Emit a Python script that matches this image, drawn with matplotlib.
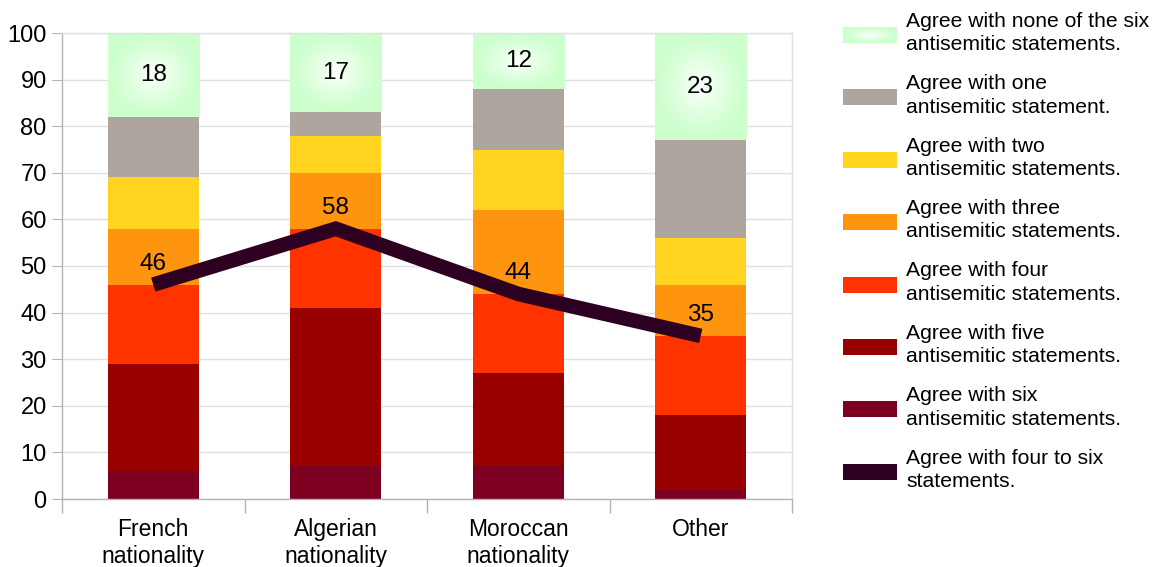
import numpy as np
import matplotlib
matplotlib.use("Agg")
import matplotlib.pyplot as plt
from matplotlib.patches import Rectangle

plt.rcParams['font.family'] = ['Liberation Sans', 'DejaVu Sans']

categories = ["French\nnationality", "Algerian\nnationality", "Moroccan\nnationality", "Other"]

# Stacked shares (bottom to top)
six_stmt = [6, 7, 7, 2]
five_stmt = [23, 34, 20, 16]
four_stmt = [17, 17, 17, 17]
three_stmt = [12, 12, 18, 11]
two_stmt = [11, 8, 13, 10]
one_stmt = [13, 5, 13, 21]
none_stmt = [18, 17, 12, 23]

# Line: agree with four to six statements
four_to_six = [46, 58, 44, 35]

legend_labels = [
    "Agree with none of the six\nantisemitic statements.",
    "Agree with one\nantisemitic statement.",
    "Agree with two\nantisemitic statements.",
    "Agree with three\nantisemitic statements.",
    "Agree with four\nantisemitic statements.",
    "Agree with five\nantisemitic statements.",
    "Agree with six\nantisemitic statements.",
    "Agree with four to six\nstatements.",
]

c_none = "#ccffcc"
c_one = "#ada59e"
c_two = "#ffd320"
c_three = "#ff950e"
c_four = "#ff3300"
c_five = "#990000"
c_six = "#7e0021"
c_line = "#2d0021"

W, H = 1154, 567
fig = plt.figure(figsize=(W / 100, H / 100), dpi=100)
ax = fig.add_axes([62 / W, 1 - 499 / H, (792 - 62) / W, (499 - 33) / H])

x = np.arange(len(categories))
bw = 0.5


def radial_gradient(w_px=60, h_px=60):
    yy, xx = np.mgrid[-1:1:h_px * 1j, -1:1:w_px * 1j]
    r = np.clip(np.sqrt(xx ** 2 + yy ** 2), 0, 1) ** 0.8
    g = np.array(matplotlib.colors.to_rgb(c_none))
    img = (1 - r)[..., None] * np.ones(3) + r[..., None] * g
    return img


stack = [(six_stmt, c_six), (five_stmt, c_five), (four_stmt, c_four),
         (three_stmt, c_three), (two_stmt, c_two), (one_stmt, c_one)]
bottom = np.zeros(len(categories))
for vals, col in stack:
    ax.bar(x, vals, bw, bottom=bottom, color=col, zorder=2, linewidth=0)
    bottom += np.array(vals)

# top segment with radial gradient fill
grad = radial_gradient()
for i, v in enumerate(none_stmt):
    b = bottom[i]
    ax.imshow(grad, extent=(x[i] - bw / 2, x[i] + bw / 2, b, b + v),
              aspect='auto', origin='lower', zorder=2, interpolation='bilinear')
    ax.text(x[i], b + v / 2, str(v), ha='center', va='center', fontsize=17.5, zorder=5)

ax.plot(x, four_to_six, color=c_line, linewidth=10.5, solid_capstyle='butt',
        solid_joinstyle='miter', zorder=4)
for i, v in enumerate(four_to_six):
    ax.annotate(str(v), (x[i], v), xytext=(0, 15), textcoords='offset points',
                ha='center', va='center', fontsize=17.5, zorder=6)

ax.set_xlim(-0.5, len(categories) - 0.5)
ax.set_ylim(0, 100)
ax.set_yticks(range(0, 101, 10))
ax.set_xticks(x)
ax.set_xticklabels(categories, linespacing=1.22)
ax.set_xticks(np.arange(-0.5, len(categories), 1), minor=True)
ax.tick_params(axis='x', which='major', length=0, labelsize=16.5, pad=14)
ax.tick_params(axis='x', which='minor', length=10, color='#b3b3b3', width=1)
ax.tick_params(axis='y', length=7, color='#b3b3b3', labelsize=17, pad=4)
ax.grid(axis='y', color='#e0e0e0', linewidth=1, zorder=0)
for s in ax.spines.values():
    s.set_color('#b3b3b3')
    s.set_linewidth(1)
ax.spines['top'].set_color('#e0e0e0')
ax.spines['right'].set_color('#e0e0e0')
ax.set_axisbelow(True)

# Legend drawn at figure level
legend_colors = [None, c_one, c_two, c_three, c_four, c_five, c_six, c_line]
y0 = 35
dy = 62.4
for k, (lab, col) in enumerate(zip(legend_labels, legend_colors)):
    yc = y0 + k * dy
    sw_h = 16
    rect_ax = fig.add_axes([843 / W, 1 - (yc + sw_h / 2) / H, 54 / W, sw_h / H])
    rect_ax.set_axis_off()
    if col is None:
        rect_ax.imshow(radial_gradient(54, 16), aspect='auto', extent=(0, 1, 0, 1),
                       interpolation='bilinear')
    else:
        rect_ax.add_patch(Rectangle((0, 0), 1, 1, color=col))
    rect_ax.set_xlim(0, 1)
    rect_ax.set_ylim(0, 1)
    fig.text(906 / W, 1 - (yc - 2) / H, lab, ha='left', va='center',
             fontsize=15.2, linespacing=1.3)

fig.savefig("out.png", dpi=100)
